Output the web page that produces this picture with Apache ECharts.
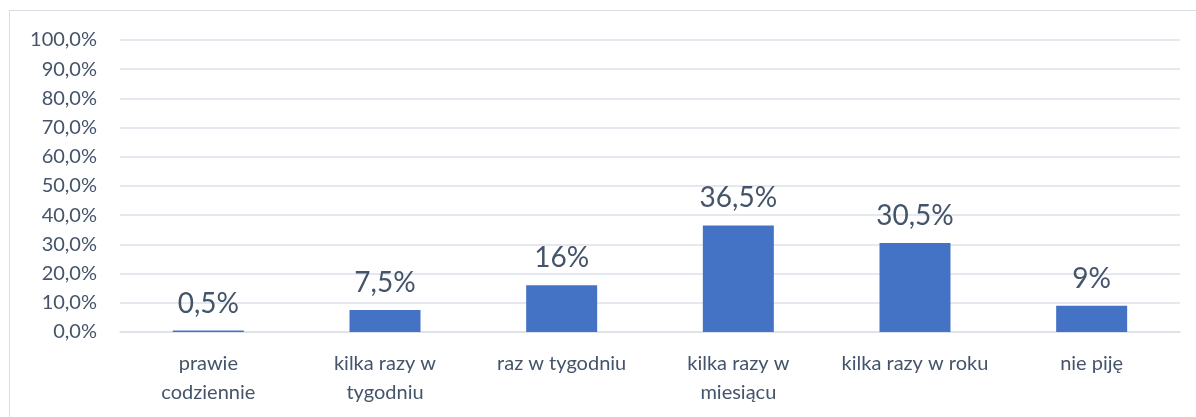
<!DOCTYPE html>
<html>
<head>
    <meta charset="utf-8">
    <title>ECharts</title>
    <script src="https://cdn.jsdelivr.net/npm/echarts@6/dist/echarts.min.js"></script>
    <style>
        html, body { margin: 0; padding: 0; background: #fff; }
        #frame { position: absolute; left: 9px; top: 10px; width: 1200px; height: 420px;
                 border: 1px solid #d9dde5; box-sizing: border-box; }
        #main { position: absolute; left: 0; top: 0; width: 1196px; height: 417px; }
    </style>
</head>
<body>
<div id="frame"></div>
<div id="main"></div>
<script type="text/javascript">
    // kategorie i wartości (%)
    var categories = ['prawie\ncodziennie', 'kilka razy w\ntygodniu', 'raz w tygodniu',
                      'kilka razy w\nmiesiącu', 'kilka razy w roku', 'nie piję'];
    var values = [0.5, 7.5, 16, 36.5, 30.5, 9];

    var textColor = '#44546a';
    var font = 'Lato, "Noto Sans", sans-serif';

    var myChart = echarts.init(document.getElementById('main'));

    myChart.setOption({
        animation: false,
        grid: { left: 120, right: 16, top: 40, bottom: 85 },
        xAxis: {
            type: 'category',
            data: categories,
            axisLine: { show: true, lineStyle: { color: '#dde1e8', width: 1.5 } },
            axisTick: { show: false },
            axisLabel: {
                interval: 0,
                hideOverlap: false,
                margin: 17,
                fontSize: 20,
                lineHeight: 29,
                color: textColor,
                fontFamily: font
            }
        },
        yAxis: {
            type: 'value',
            min: 0,
            max: 100,
            interval: 10,
            axisLine: { show: false },
            axisTick: { show: false },
            splitLine: { lineStyle: { color: '#dde1e8', width: 1.5 } },
            axisLabel: {
                margin: 23,
                fontSize: 20,
                color: textColor,
                fontFamily: font,
                formatter: function (v) { return v.toFixed(1).replace('.', ',') + '%'; }
            }
        },
        series: [
            {
                type: 'bar',
                data: values,
                barWidth: 71,
                itemStyle: { color: '#4472c4' },
                label: {
                    show: true,
                    position: 'top',
                    distance: 13,
                    fontSize: 28,
                    color: textColor,
                    fontFamily: font,
                    formatter: function (p) { return String(p.value).replace('.', ',') + '%'; }
                }
            }
        ]
    });
</script>
</body>
</html>
